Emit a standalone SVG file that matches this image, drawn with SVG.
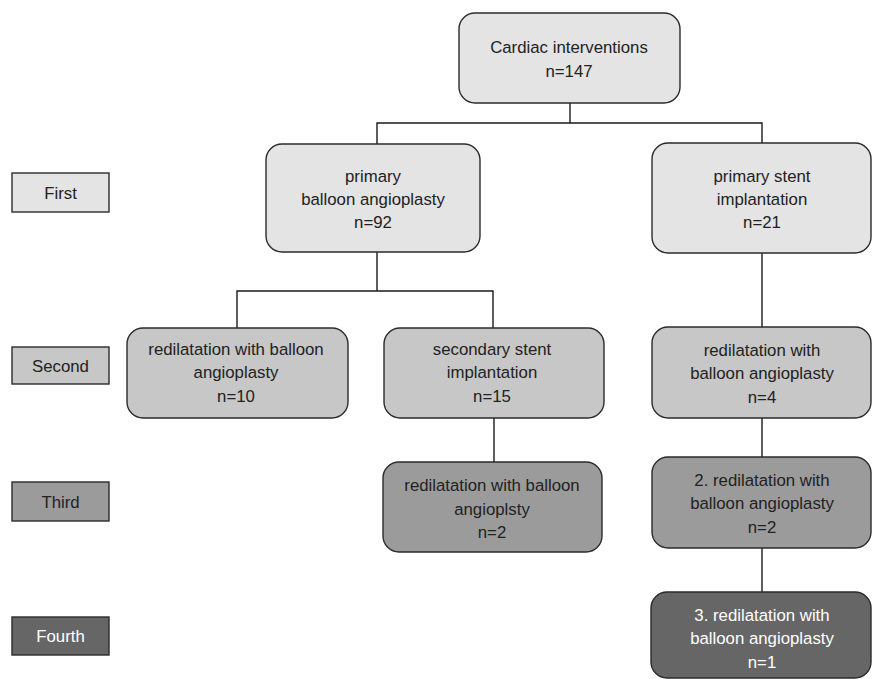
<svg xmlns="http://www.w3.org/2000/svg" width="872" height="679" viewBox="0 0 872 679">
<style>
.n{stroke:#2b2b2b;stroke-width:1.4}
.l1{fill:#e4e4e4}.l2{fill:#c6c7c6}.l3{fill:#9b9b9b}.l4{fill:#666666}
text{font-family:"Liberation Sans",Arial,sans-serif;font-size:16.8px;fill:#222;text-anchor:middle}
text.w{fill:#fff}
.c{stroke:#1a1a1a;stroke-width:1.4;fill:none}
</style>
<rect width="872" height="679" fill="#fff"/>
<g id="connectors">
<path class="c" d="M570 103V123M377 144V123H762V143"/>
<path class="c" d="M377 252V291M237 328V291H493V328"/>
<path class="c" d="M762 253V327"/>
<path class="c" d="M494 418V462"/>
<path class="c" d="M762 418V457"/>
<path class="c" d="M762 548V592"/>
</g>
<g id="label-first"><rect class="n l1" x="12" y="173" width="97" height="39"/><text x="60.5" y="199">First</text></g>
<g id="label-second"><rect class="n l2" x="12" y="347" width="97" height="37"/><text x="60.5" y="372">Second</text></g>
<g id="label-third"><rect class="n l3" x="12" y="482" width="97" height="39"/><text x="60.5" y="508">Third</text></g>
<g id="label-fourth"><rect class="n l4" x="12" y="617" width="97" height="38"/><text class="w" x="60.5" y="642">Fourth</text></g>
<g id="cardiac"><rect class="n l1" x="459" y="13" width="221" height="90" rx="16"/><text x="569" y="53">Cardiac interventions</text><text x="569" y="77">n=147</text></g>
<g id="primary-balloon"><rect class="n l1" x="266" y="144" width="214" height="108" rx="16"/><text x="373" y="182">primary</text><text x="373" y="205">balloon angioplasty</text><text x="373" y="228">n=92</text></g>
<g id="primary-stent"><rect class="n l1" x="652" y="143" width="219" height="110" rx="16"/><text x="762" y="182">primary stent</text><text x="762" y="205">implantation</text><text x="762" y="228">n=21</text></g>
<g id="redil-10"><rect class="n l2" x="127" y="328" width="221" height="90" rx="16"/><text x="236" y="355">redilatation with balloon</text><text x="236" y="378">angioplasty</text><text x="236" y="402">n=10</text></g>
<g id="secondary-stent"><rect class="n l2" x="384" y="328" width="220" height="90" rx="16"/><text x="492" y="355">secondary stent</text><text x="492" y="378">implantation</text><text x="492" y="402">n=15</text></g>
<g id="redil-4"><rect class="n l2" x="652" y="327" width="219" height="91" rx="16"/><text x="762" y="356">redilatation with</text><text x="762" y="379">balloon angioplasty</text><text x="762" y="403">n=4</text></g>
<g id="redil-2-mid"><rect class="n l3" x="383" y="462" width="219" height="90" rx="16"/><text x="492" y="491">redilatation with balloon</text><text x="492" y="515">angioplsty</text><text x="492" y="538">n=2</text></g>
<g id="redil-2-right"><rect class="n l3" x="652" y="457" width="219" height="91" rx="16"/><text x="762" y="486">2. redilatation with</text><text x="762" y="509">balloon angioplasty</text><text x="762" y="533">n=2</text></g>
<g id="redil-1"><rect class="n l4" x="651" y="592" width="220" height="86" rx="16"/><text class="w" x="762" y="621">3. redilatation with</text><text class="w" x="762" y="644">balloon angioplasty</text><text class="w" x="762" y="668">n=1</text></g>
</svg>
